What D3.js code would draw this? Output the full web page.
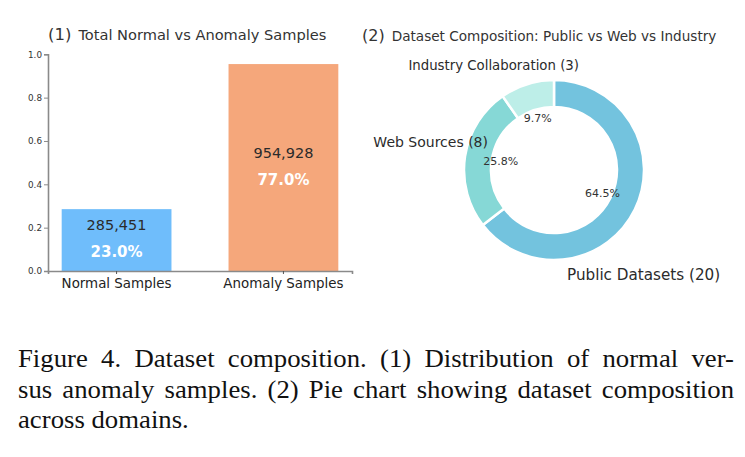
<!DOCTYPE html>
<html>
<head>
<meta charset="utf-8">
<script src="https://cdn.jsdelivr.net/npm/d3@7"></script>
<style>
    body { margin: 0; background: #fff; }
    svg { display: block; }
</style>
</head>
<body>
<svg id="fig" width="745" height="457"></svg>
<script>
// (1) normal vs anomaly
const sampleTypes = ["Normal Samples", "Anomaly Samples"];
const sampleCounts = [285451, 954928];
const samplePercents = [23.0, 77.0];
const yTicks = [0.0, 0.2, 0.4, 0.6, 0.8, 1.0];

// (2) dataset composition
const sourceNames = ["Public Datasets", "Web Sources", "Industry Collaboration"];
const sourceCounts = [20, 8, 3];

const captionLines = [
    "Figure 4. Dataset composition. (1) Distribution of normal ver-",
    "sus anomaly samples. (2) Pie chart showing dataset composition",
    "across domains."
];

const font = "DejaVu Sans, Verdana, sans-serif";
const svg = d3.select("#fig");
svg.append("rect").attr("width", 745).attr("height", 457).attr("fill", "#fff");

// ---------- panel 1 ----------
const x = d3.scaleBand()
    .domain(sampleTypes)
    .range([48, 352])
    .paddingInner(0.342)
    .paddingOuter(0.082);

const y = d3.scaleLinear()
    .domain([0, 1])
    .range([271, 54.3]);

const barColors = ["#6fbdfb", "#f5a77b"];
const bars = sampleTypes.map((name, i) => ({
    name: name,
    count: sampleCounts[i],
    pct: samplePercents[i],
    h: sampleCounts[i] / 1e6
}));

const p1 = svg.append("g");

p1.selectAll("rect.bar")
    .data(bars)
    .join("rect")
    .attr("class", "bar")
    .attr("x", d => x(d.name))
    .attr("width", x.bandwidth())
    .attr("y", d => y(d.h))
    .attr("height", d => y(0) - y(d.h))
    .attr("fill", (d, i) => barColors[i]);

const yAxis = p1.append("g")
    .attr("transform", `translate(${x.range()[0]},0)`)
    .call(d3.axisLeft(y).tickValues(yTicks).tickFormat(d3.format(".1f")).tickSizeOuter(0).tickSize(4).tickPadding(2));
yAxis.select(".domain").attr("stroke", "#8a8a8a").attr("stroke-width", 1.6);
yAxis.selectAll(".tick line").attr("stroke", "#8a8a8a");
yAxis.selectAll(".tick text").attr("fill", "#333").style("font", `8.8px ${font}`);

const xAxis = p1.append("g")
    .attr("transform", `translate(0,${y(0)})`)
    .call(d3.axisBottom(x).tickSizeOuter(0).tickSize(3).tickPadding(4));
xAxis.select(".domain").attr("stroke", "#8a8a8a").attr("stroke-width", 1.6);
xAxis.selectAll(".tick line").attr("stroke", "#555");
xAxis.selectAll(".tick text").attr("fill", "#222").style("font", `13.4px ${font}`);

p1.selectAll("text.count")
    .data(bars)
    .join("text")
    .attr("class", "count")
    .attr("x", d => x(d.name) + x.bandwidth() / 2)
    .attr("y", d => y(d.h / 2) - 15)
    .attr("text-anchor", "middle")
    .attr("dominant-baseline", "central")
    .attr("fill", "#2b2b2b")
    .style("font", `14.5px ${font}`)
    .text(d => d3.format(",")(d.count));

p1.selectAll("text.pct")
    .data(bars)
    .join("text")
    .attr("class", "pct")
    .attr("x", d => x(d.name) + x.bandwidth() / 2)
    .attr("y", d => y(d.h / 2) + 12)
    .attr("text-anchor", "middle")
    .attr("dominant-baseline", "central")
    .attr("fill", "#fff")
    .style("font", `bold 15px ${font}`)
    .text(d => d.pct.toFixed(1) + "%");

const t1 = p1.append("text")
    .attr("x", 48)
    .attr("y", 40)
    .attr("fill", "#333")
    .style("font-family", font);
t1.append("tspan").style("font-size", "16.5px").text("(1)");
t1.append("tspan").attr("dx", 7).style("font-size", "14.6px").text("Total Normal vs Anomaly Samples");

// ---------- panel 2 ----------
const cx = 554, cy = 170, R = 90;
const pieColors = ["#73c3de", "#86d8d6", "#bdeee8"];
const slices = sourceNames.map((name, i) => ({ name: name, count: sourceCounts[i] }));
const total = d3.sum(sourceCounts);

const pie = d3.pie().sort(null).value(d => d.count);
const arcs = pie(slices);
const arc = d3.arc().innerRadius(R * 0.7).outerRadius(R);
const pctArc = d3.arc().innerRadius(R * 0.6).outerRadius(R * 0.6);

const p2 = svg.append("g").attr("transform", `translate(${cx},${cy})`);

p2.selectAll("path")
    .data(arcs)
    .join("path")
    .attr("d", arc)
    .attr("fill", (d, i) => pieColors[i])
    .attr("stroke", "#fff")
    .attr("stroke-width", 2.5)
    .attr("stroke-linejoin", "miter");

p2.selectAll("text.pct")
    .data(arcs)
    .join("text")
    .attr("class", "pct")
    .attr("transform", d => `translate(${pctArc.centroid(d)})`)
    .attr("text-anchor", "middle")
    .attr("dominant-baseline", "central")
    .attr("fill", "#333")
    .style("font", `11px ${font}`)
    .text(d => (d.data.count / total * 100).toFixed(1) + "%");

// name labels, nudged from the centre as in the original
const labelNudge = [
    { dx: 13, dy: 110, anchor: "start", size: 15.2 },
    { dx: -66, dy: -23, anchor: "end", size: 14 },
    { dx: 25, dy: -100, anchor: "end", size: 13.3 }
];
p2.selectAll("text.name")
    .data(arcs)
    .join("text")
    .attr("class", "name")
    .attr("x", (d, i) => labelNudge[i].dx)
    .attr("y", (d, i) => labelNudge[i].dy)
    .attr("text-anchor", (d, i) => labelNudge[i].anchor)
    .attr("fill", "#2b2b2b")
    .style("font-family", font)
    .style("font-size", (d, i) => labelNudge[i].size + "px")
    .text(d => `${d.data.name} (${d.data.count})`);

const t2 = svg.append("text")
    .attr("x", 362)
    .attr("y", 41)
    .attr("fill", "#333")
    .style("font-family", font);
t2.append("tspan").style("font-size", "16px").text("(2)");
t2.append("tspan").attr("dx", 7).style("font-size", "13.6px").text("Dataset Composition: Public vs Web vs Industry");

// ---------- caption (slightly wide glyphs, justified by word spacing) ----------
const capLeft = 18, capWidth = 716, capStretch = 1.07;
const capG = svg.append("g")
    .attr("transform", `translate(${capLeft},0) scale(${capStretch},1)`);
const cap = capG.selectAll("text.cap")
    .data(captionLines)
    .join("text")
    .attr("class", "cap")
    .attr("x", 0)
    .attr("y", (d, i) => 367.5 + i * 30.5)
    .attr("fill", "#111")
    .style("font", "25px 'Liberation Serif', 'Times New Roman', serif")
    .text(d => d);

cap.each(function(d, i) {
    if (i === captionLines.length - 1) return;
    const w = this.getComputedTextLength();
    const gaps = (d.match(/ /g) || []).length;
    d3.select(this).style("word-spacing", ((capWidth / capStretch - w) / gaps) + "px");
});
</script>
</body>
</html>
